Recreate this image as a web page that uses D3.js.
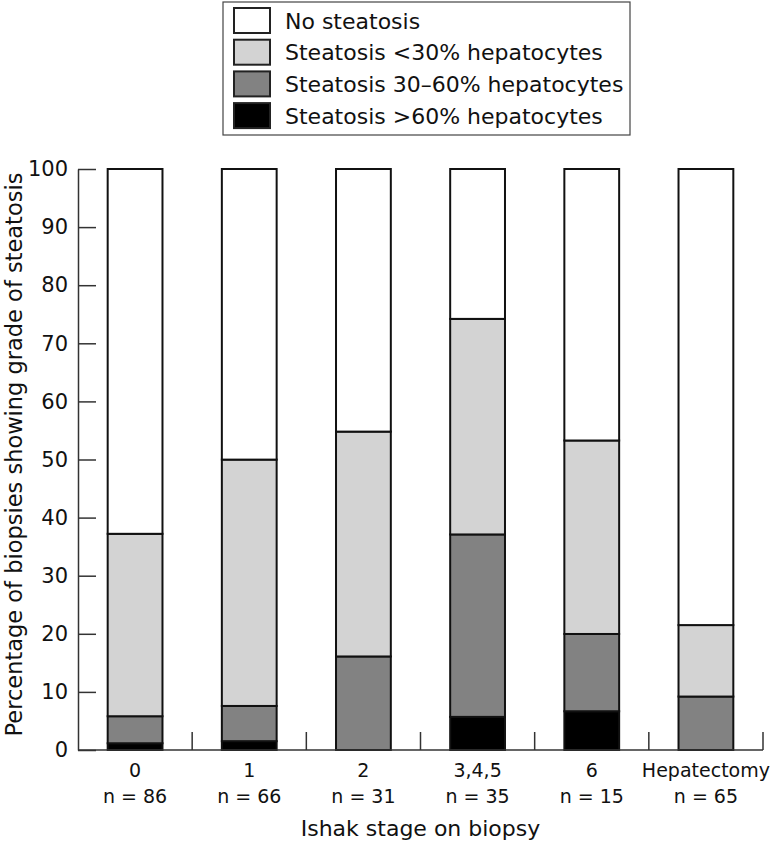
<!DOCTYPE html>
<html>
<head>
<meta charset="utf-8">
<script src="https://cdn.jsdelivr.net/npm/d3@7"></script>
<style>
  html, body { margin: 0; padding: 0; background: #fff; }
  svg { display: block; }
  text { font-family: "DejaVu Sans", sans-serif; fill: #111; }
</style>
</head>
<body>
<svg id="chart" width="770" height="853"></svg>
<script>
// ---- data ----
const categories = ["0", "1", "2", "3,4,5", "6", "Hepatectomy"];
const nLabels = ["n = 86", "n = 66", "n = 31", "n = 35", "n = 15", "n = 65"];
const seriesNames = ["Steatosis >60% hepatocytes", "Steatosis 30\u201360% hepatocytes", "Steatosis <30% hepatocytes", "No steatosis"];
const gt60 = [1.16, 1.52, 0, 5.7, 6.67, 0];
const mid30to60 = [4.65, 6.06, 16.1, 31.4, 13.3, 9.2];
const lt30 = [31.4, 42.4, 38.7, 37.1, 33.3, 12.3];
const noSteatosis = [62.79, 50.02, 45.2, 25.8, 46.73, 78.5];
const yTicks = [0, 10, 20, 30, 40, 50, 60, 70, 80, 90, 100];
const legendOrder = ["No steatosis", "Steatosis <30% hepatocytes", "Steatosis 30\u201360% hepatocytes", "Steatosis >60% hepatocytes"];
const colors = {
  "No steatosis": "#ffffff",
  "Steatosis <30% hepatocytes": "#d3d3d3",
  "Steatosis 30\u201360% hepatocytes": "#828282",
  "Steatosis >60% hepatocytes": "#000000"
};

const rows = categories.map((c, i) => ({
  cat: c,
  [seriesNames[0]]: gt60[i],
  [seriesNames[1]]: mid30to60[i],
  [seriesNames[2]]: lt30[i],
  [seriesNames[3]]: noSteatosis[i]
}));

const svg = d3.select("#chart");
const mLeft = 78, mRight = 763, mTop = 169, mBottom = 750;

const x = d3.scaleBand().domain(categories).range([mLeft, mRight]).paddingInner(0.52).paddingOuter(0.26);
const y = d3.scaleLinear().domain([0, 100]).range([mBottom, mTop]);

const stacked = d3.stack().keys(seriesNames)(rows);

// bars
const g = svg.append("g");
stacked.forEach(layer => {
  g.selectAll(null).data(layer).join("rect")
    .attr("x", d => x(d.data.cat))
    .attr("width", x.bandwidth())
    .attr("y", d => y(d[1]))
    .attr("height", d => Math.max(0, y(d[0]) - y(d[1])))
    .attr("fill", colors[layer.key])
    .attr("stroke", d => (d[1] - d[0]) > 0 ? "#111" : "none")
    .attr("stroke-width", 2);
});

// y axis
const yAxis = d3.axisLeft(y).tickValues(yTicks).tickSizeInner(-18).tickSizeOuter(0).tickPadding(10);
const ya = svg.append("g").attr("transform", `translate(${mLeft},0)`).call(yAxis);
ya.select(".domain").attr("stroke", "#333").attr("stroke-width", 1.5);
ya.selectAll(".tick line").attr("stroke", "#333").attr("stroke-width", 1.5);
ya.selectAll(".tick text").attr("font-size", 21).attr("font-family", "DejaVu Sans").attr("fill", "#111");

// x axis
svg.append("line").attr("x1", mLeft).attr("x2", mRight).attr("y1", mBottom).attr("y2", mBottom)
  .attr("stroke", "#333").attr("stroke-width", 1.5);
const step = x.step();
svg.selectAll(".sep").data(categories).join("line")
  .attr("class", "sep")
  .attr("x1", d => x(d) + x.bandwidth() + step * x.paddingInner() / 2)
  .attr("x2", d => x(d) + x.bandwidth() + step * x.paddingInner() / 2)
  .attr("y1", mBottom).attr("y2", mBottom - 18)
  .attr("stroke", "#333").attr("stroke-width", 1.5);

const xl = svg.selectAll(".xl").data(categories).join("text")
  .attr("class", "xl")
  .attr("text-anchor", "middle")
  .attr("font-size", 19);
xl.append("tspan").attr("x", d => x(d) + x.bandwidth() / 2).attr("y", 777).text(d => d);
xl.append("tspan").attr("x", d => x(d) + x.bandwidth() / 2).attr("y", 803).text((d, i) => nLabels[i]);

// axis titles
svg.append("text").attr("x", (mLeft + mRight) / 2).attr("y", 836).attr("text-anchor", "middle")
  .attr("font-size", 22).text("Ishak stage on biopsy");
svg.append("text").attr("transform", `translate(22,${(mTop + mBottom) / 2 - 5}) rotate(-90)`)
  .attr("text-anchor", "middle").attr("font-size", 22.5)
  .text("Percentage of biopsies showing grade of steatosis");

// legend
const lg = svg.append("g");
lg.append("rect").attr("x", 223).attr("y", 2).attr("width", 407).attr("height", 133)
  .attr("fill", "#fff").attr("stroke", "#444").attr("stroke-width", 1.2);
const items = lg.selectAll(".li").data(legendOrder).join("g").attr("class", "li")
  .attr("transform", (d, i) => `translate(234,${8 + i * 31.7})`);
items.append("rect").attr("width", 36).attr("height", 25)
  .attr("fill", d => colors[d]).attr("stroke", "#222").attr("stroke-width", 2);
items.append("text").attr("x", 51).attr("y", 20.5).attr("font-size", 22).text(d => d);
</script>
</body>
</html>
